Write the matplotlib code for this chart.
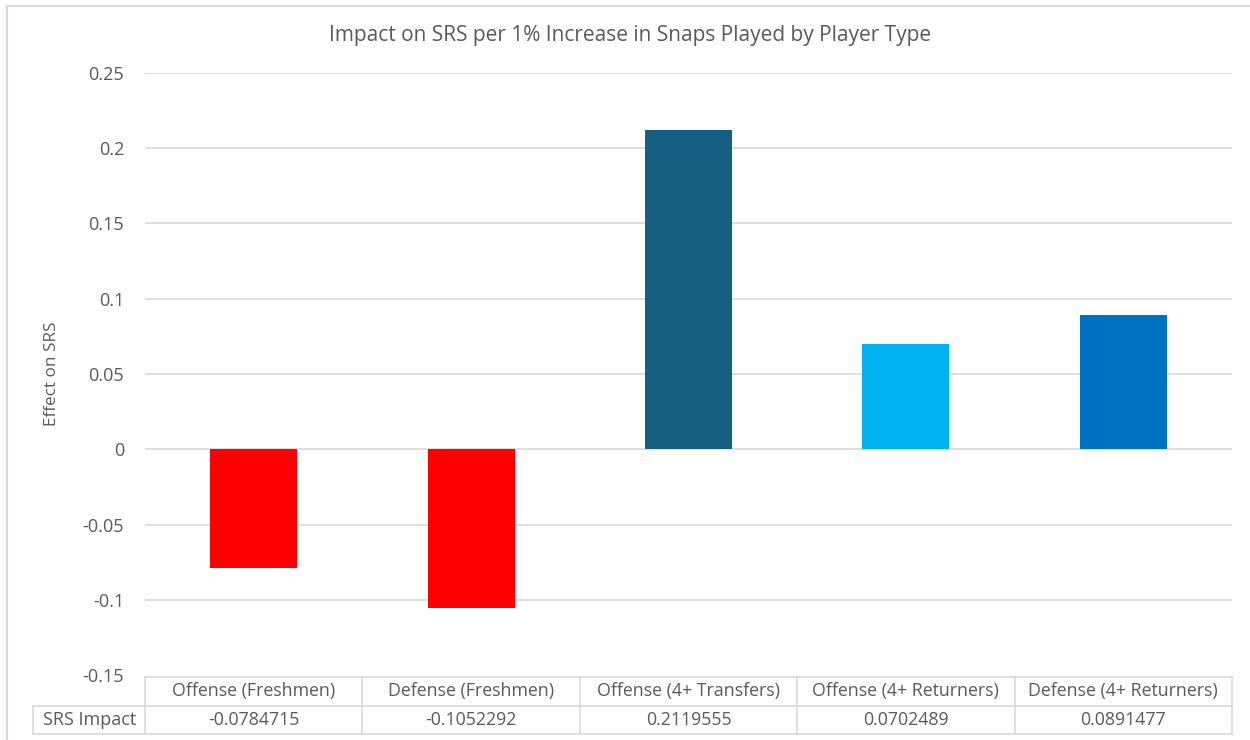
import matplotlib.pyplot as plt
from matplotlib.lines import Line2D

# data
categories = ["Offense (Freshmen)", "Defense (Freshmen)", "Offense (4+ Transfers)",
              "Offense (4+ Returners)", "Defense (4+ Returners)"]
values = [-0.0784715, -0.1052292, 0.2119555, 0.0702489, 0.0891477]
value_labels = ["-0.0784715", "-0.1052292", "0.2119555", "0.0702489", "0.0891477"]
bar_colors = ["#FF0000", "#FF0000", "#156082", "#00B0F0", "#0070C0"]
yticks = [0.25, 0.2, 0.15, 0.1, 0.05, 0, -0.05, -0.1, -0.15]
ytick_labels = ["0.25", "0.2", "0.15", "0.1", "0.05", "0", "-0.05", "-0.1", "-0.15"]

plt.rcParams['font.family'] = ['Open Sans', 'DejaVu Sans']
txt = "#595959"
grid = "#D9D9D9"
W, H = 1250, 740

def fx(px):
    return px / W

def fy(py):
    return 1 - py / H

fig = plt.figure(figsize=(12.5, 7.4), dpi=100)

# chart border
fig.add_artist(Line2D([fx(7), fx(7)], [fy(6), fy(740)], color=grid, lw=1.5))
fig.add_artist(Line2D([fx(7), fx(1250)], [fy(6), fy(6)], color=grid, lw=1.5))

left, right, top, bottom = 145, 1232, 72.7, 675.5
ax = fig.add_axes([fx(left), fy(bottom), fx(right) - fx(left), fy(top) - fy(bottom)])

x = range(len(categories))
ax.bar(x, values, width=0.4, color=bar_colors, zorder=3)
ax.set_xlim(-0.5, len(categories) - 0.5)
ax.set_ylim(-0.15, 0.25)
ax.set_yticks(yticks)
ax.set_yticklabels(ytick_labels, color=txt, fontsize=13)
ax.set_xticks([])
ax.tick_params(axis='y', length=0, pad=15)
for t in yticks:
    if t > -0.15:
        ax.axhline(t, color=grid, lw=1.2, zorder=1)
for s in ax.spines.values():
    s.set_visible(False)

ax.set_ylabel("Effect on SRS", color=txt, fontsize=12.3, labelpad=16)
fig.text(fx(630), fy(36), "Impact on SRS per 1% Increase in Snaps Played by Player Type",
         ha='center', va='center', color=txt, fontsize=15)

# data table
t_top, t_mid, t_bot = 677, 705.5, 734
fig.add_artist(Line2D([fx(left), fx(right)], [fy(t_top), fy(t_top)], color=grid, lw=1.2))
fig.add_artist(Line2D([fx(33), fx(right)], [fy(t_mid), fy(t_mid)], color=grid, lw=1.2))
fig.add_artist(Line2D([fx(33), fx(right)], [fy(t_bot), fy(t_bot)], color=grid, lw=1.2))
fig.add_artist(Line2D([fx(33), fx(33)], [fy(t_mid), fy(t_bot)], color=grid, lw=1.2))
cw = (right - left) / len(categories)
for i in range(len(categories) + 1):
    xx = left + i * cw
    fig.add_artist(Line2D([fx(xx), fx(xx)], [fy(t_top), fy(t_bot)], color=grid, lw=1.2))
fig.text(fx(90), fy((t_mid + t_bot) / 2), "SRS Impact", ha='center', va='center',
         color=txt, fontsize=13)
for i, (c, v) in enumerate(zip(categories, value_labels)):
    cx = left + (i + 0.5) * cw
    fig.text(fx(cx), fy((t_top + t_mid) / 2), c, ha='center', va='center', color=txt, fontsize=12.8)
    fig.text(fx(cx), fy((t_mid + t_bot) / 2), v, ha='center', va='center', color=txt, fontsize=12.8)

fig.savefig("out.png", dpi=100)
